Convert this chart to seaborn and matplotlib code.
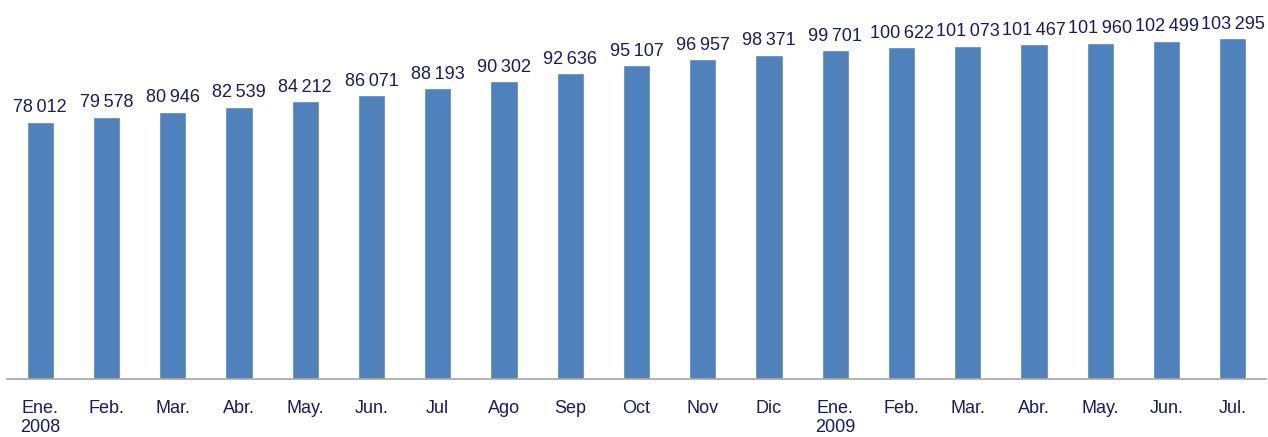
import matplotlib
matplotlib.use('Agg')
import matplotlib.pyplot as plt
import seaborn as sns
import pandas as pd

# datos mensuales
meses = ['Ene.\n2008', 'Feb.', 'Mar.', 'Abr.', 'May.', 'Jun.', 'Jul', 'Ago', 'Sep',
         'Oct', 'Nov', 'Dic', 'Ene.\n2009', 'Feb.', 'Mar.', 'Abr.', 'May.', 'Jun.', 'Jul.']
valores = [78012, 79578, 80946, 82539, 84212, 86071, 88193, 90302, 92636,
           95107, 96957, 98371, 99701, 100622, 101073, 101467, 101960, 102499, 103295]

df = pd.DataFrame({'pos': range(len(meses)), 'valor': valores})

sns.set_style('white')
plt.rcParams['font.family'] = ['Liberation Sans', 'DejaVu Sans']

texto = '#1A1A6A'

fig = plt.figure(figsize=(12.68, 4.37), dpi=100)
ax = fig.add_axes([7 / 1268, 58 / 437, 1259 / 1268, 376 / 437])

sns.barplot(data=df, x='pos', y='valor', color='#4F81BD', saturation=1,
            width=0.41, ax=ax)

etiquetas = [f'{v:,}'.replace(',', '\u2009') for v in valores]
ax.bar_label(ax.containers[0], labels=etiquetas, padding=4,
             fontsize=13, color=texto)

ax.set_xlim(-0.5, len(meses) - 0.5)
ax.set_ylim(0, 114000)
ax.set_xticks(range(len(meses)))
ax.set_xticklabels(meses, fontsize=13, color=texto, linespacing=1.2)
ax.tick_params(axis='x', length=0, pad=15)
ax.set_yticks([])
ax.set_xlabel('')
ax.set_ylabel('')

for lado in ['top', 'right', 'left']:
    ax.spines[lado].set_visible(False)
ax.spines['bottom'].set_color('#A6A6A6')
ax.spines['bottom'].set_linewidth(1.2)

fig.savefig('out.png', dpi=100)
